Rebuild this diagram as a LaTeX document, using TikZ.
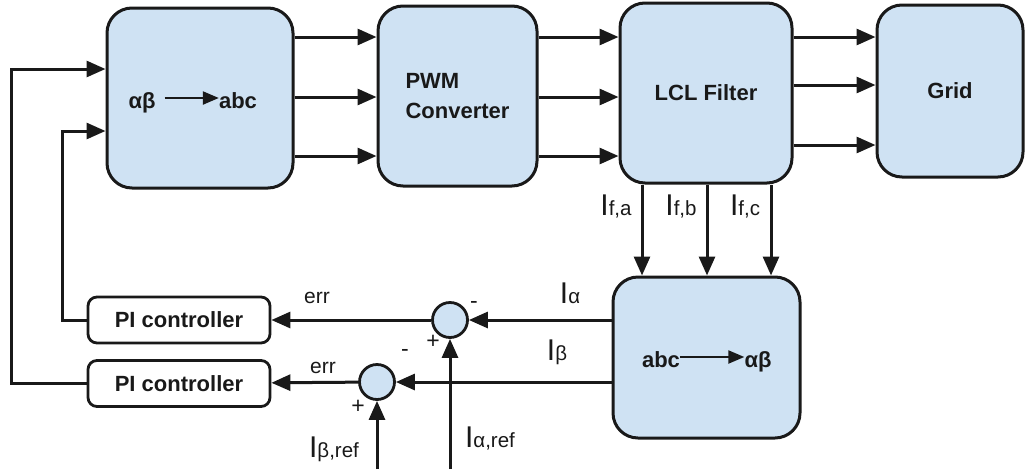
\documentclass[tikz,border=0pt]{standalone}
\usepackage{fontspec}
\setmainfont{Liberation Sans}
\usetikzlibrary{arrows.meta}
\definecolor{boxblue}{RGB}{207,226,243}
\definecolor{ink}{RGB}{25,25,25}
% current label: big I, small index on the same base line
\newcommand{\cur}[1]{{\fontsize{30}{30}\selectfont I}{\fontsize{20.5}{20}\selectfont #1}}
\tikzset{
  blk/.style={draw=ink, line width=3pt, fill=boxblue, rounded corners=25pt, inner sep=0pt,
    text=ink, font=\bfseries\fontsize{22}{30}\selectfont},
  pibox/.style={draw=ink, line width=2.8pt, rounded corners=9pt, inner sep=0pt,
    minimum width=182pt, minimum height=46pt, text=ink, font=\bfseries\fontsize{22}{22}\selectfont},
  sumnode/.style={circle, draw=ink, line width=2.8pt, fill=boxblue, minimum size=35pt, inner sep=0pt},
  arr/.style={draw=ink, line width=3pt, -{Triangle[length=19pt,width=16pt]}},
  inarr/.style={draw=ink, line width=2.2pt, -{Triangle[length=16pt,width=13pt]}},
  inlbl/.style={inner sep=0pt, text height=20pt, text depth=0pt, text=ink,
    font=\bfseries\fontsize{22}{22}\selectfont},
  lbl/.style={anchor=base, inner sep=0pt, text=ink, font=\fontsize{21}{21}\selectfont},
  sgn/.style={inner sep=0pt, text=ink, font=\fontsize{23}{23}\selectfont},
}
\begin{document}
\begin{tikzpicture}[x=1pt,y=-1pt]
  \useasboundingbox (0,0) rectangle (1027,469);

  % forward path
  \node[blk, minimum width=186pt, minimum height=180pt] (ab) at (200,98) {};
  \node[blk, minimum width=159pt, minimum height=180pt, align=left] (pwm) at (457.5,96) {PWM\\Converter};
  \node[blk, minimum width=172pt, minimum height=180pt] (lcl) at (706,93) {LCL Filter};
  \node[blk, minimum width=146pt, minimum height=172pt] (grid) at (950,91) {Grid};
  \node[blk, minimum width=187pt, minimum height=161pt] (clarke) at (706.5,357.5) {};

  \node[inlbl] (ab1) at (142,98) {αβ};
  \node[inlbl] (abc1) at (238,98) {abc};
  \draw[inarr, shorten <=9pt] (ab1) -- (abc1);
  \node[inlbl] (abc2) at (661,357) {abc};
  \node[inlbl] (ab2) at (758,357) {αβ};
  \draw[inarr] (abc2) -- (ab2);

  \foreach \y in {37,97,156} {
    \draw[arr] (ab.east |- 0,\y) -- (pwm.west |- 0,\y);
    \draw[arr] (pwm.east |- 0,\y) -- (lcl.west |- 0,\y);
  }
  \foreach \y in {37,85,145}
    \draw[arr] (lcl.east |- 0,\y) -- (grid.west |- 0,\y);

  % measured currents
  \foreach \x/\s/\n in {642/{f,a}/ia, 707/{f,b}/ib, 771/{f,c}/ic} {
    \draw[arr] (lcl.south -| \x,0) -- (clarke.north -| \x,0);
    \node[lbl] (\n) at (\x-26,215) {\cur{\s}};
  }

  % current loops
  \node[pibox] (pi1) at (179,320) {PI controller};
  \node[pibox] (pi2) at (179,383.5) {PI controller};
  \node[sumnode] (s1) at (450,320) {};
  \node[sumnode] (s2) at (377,382) {};
  \draw[arr] (clarke.west |- s1) -- (s1);
  \draw[arr] (clarke.west |- s2) -- (s2);
  \draw[arr] (s1) -- (pi1);
  \draw[arr] (s2) -- (pi2);
  \coordinate (fb1) at (62,131);
  \coordinate (fb2) at (11,69);
  \draw[arr] (pi1.west) -| (fb1) -- (ab.west |- fb1);
  \draw[arr] (pi2.west) -| (fb2) -- (ab.west |- fb2);
  \coordinate (aref) at (450,469);
  \coordinate (bref) at (377,469);
  \draw[arr] (aref) -- (s1);
  \draw[arr] (bref) -- (s2);

  \node[lbl] (la) at (570,303) {\cur{α}};
  \node[lbl] (lb) at (557,360) {\cur{β}};
  \node[lbl] (laref) at (490,447) {\cur{α,ref}};
  \node[lbl] (lbref) at (334,457) {\cur{β,ref}};
  \node[lbl] (err1) at (317,303) {err};
  \node[lbl] (err2) at (323,373) {err};
  \node[sgn] (m1) at (474,305) {-};
  \node[sgn] (p1) at (433,342) {+};
  \node[sgn] (m2) at (405,353) {-};
  \node[sgn] (p2) at (358,407) {+};
\end{tikzpicture}
\end{document}
